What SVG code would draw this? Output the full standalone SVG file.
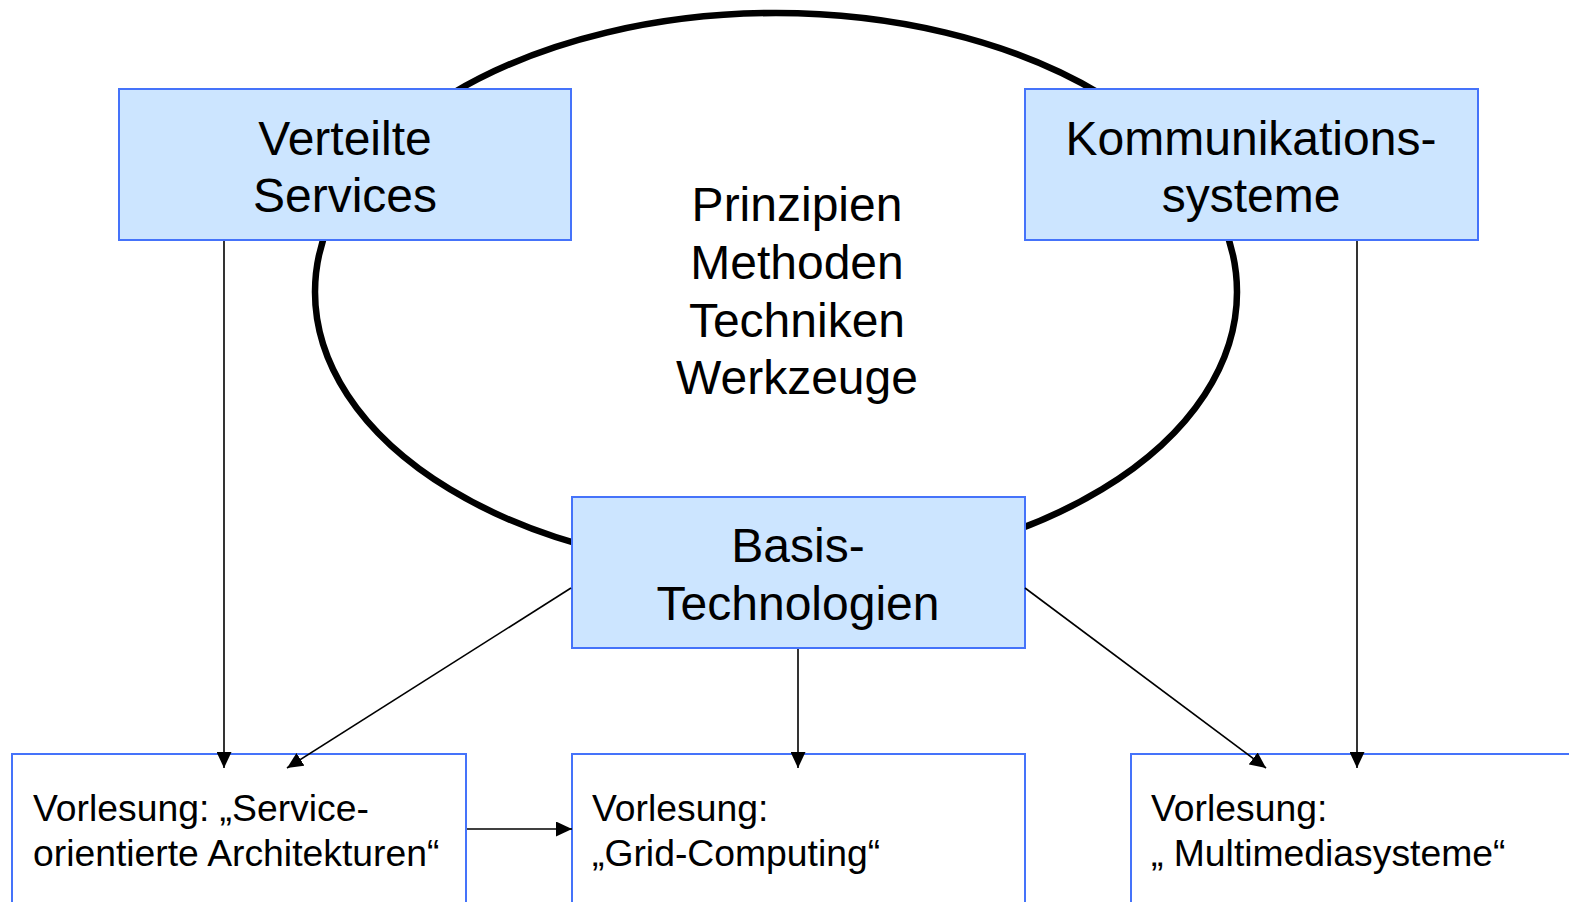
<svg xmlns="http://www.w3.org/2000/svg" width="1569" height="902" viewBox="0 0 1569 902">
  <style>
    .box { fill: #cce5ff; stroke: #4573fa; stroke-width: 2; }
    .lec { fill: #ffffff; stroke: #4573fa; stroke-width: 2; }
    .big { font-family: "Liberation Sans", Arial, sans-serif; font-size: 48px; fill: #000; text-anchor: middle; }
    .small { font-family: "Liberation Sans", Arial, sans-serif; font-size: 37.3px; fill: #000; }
    .conn { stroke: #000; stroke-width: 1.6; fill: none; marker-end: url(#arrow); }
  </style>
  <defs>
    <marker id="arrow" markerUnits="userSpaceOnUse" markerWidth="17" markerHeight="15" refX="16" refY="7.5" orient="auto">
      <path d="M0,0 L16,7.5 L0,15 Z" fill="#000"/>
    </marker>
  </defs>
  <rect width="1569" height="902" fill="#ffffff"/>

  <!-- central ring -->
  <g id="ring">
    <ellipse cx="776" cy="292" rx="461" ry="279" fill="none" stroke="#000" stroke-width="6.5"/>
    <text class="big" x="797" y="221">Prinzipien</text>
    <text class="big" x="797" y="279">Methoden</text>
    <text class="big" x="797" y="337">Techniken</text>
    <text class="big" x="797" y="394">Werkzeuge</text>
  </g>

  <g id="verteilte-services">
    <rect class="box" x="119" y="89" width="452" height="151"/>
    <text class="big" x="345" y="155">Verteilte</text>
    <text class="big" x="345" y="212">Services</text>
  </g>

  <g id="kommunikationssysteme">
    <rect class="box" x="1025" y="89" width="453" height="151"/>
    <text class="big" x="1251" y="155">Kommunikations-</text>
    <text class="big" x="1251" y="212">systeme</text>
  </g>

  <g id="basis-technologien">
    <rect class="box" x="572" y="497" width="453" height="151"/>
    <text class="big" x="798" y="562">Basis-</text>
    <text class="big" x="798" y="620">Technologien</text>
  </g>

  <g id="vorlesung-soa">
    <rect class="lec" x="12" y="754" width="454" height="160"/>
    <text class="small" x="33" y="821">Vorlesung: „Service-</text>
    <text class="small" x="33" y="866">orientierte Architekturen“</text>
  </g>

  <g id="vorlesung-grid">
    <rect class="lec" x="572" y="754" width="453" height="160"/>
    <text class="small" x="592" y="821">Vorlesung:</text>
    <text class="small" x="592" y="866">„Grid-Computing“</text>
  </g>

  <g id="vorlesung-multimedia">
    <rect class="lec" x="1131" y="754" width="460" height="160"/>
    <text class="small" x="1151" y="821">Vorlesung:</text>
    <text class="small" x="1151" y="866">„ Multimediasysteme“</text>
  </g>

  <!-- connectors, drawn over the boxes so the arrow tips reach inside -->
  <g id="connectors">
    <line class="conn" x1="224" y1="241" x2="224" y2="768"/>
    <line class="conn" x1="571" y1="588" x2="287" y2="768"/>
    <line class="conn" x1="798" y1="649" x2="798" y2="768"/>
    <line class="conn" x1="1025" y1="588" x2="1266" y2="768"/>
    <line class="conn" x1="1357" y1="241" x2="1357" y2="768"/>
    <line class="conn" x1="467" y1="829" x2="572" y2="829"/>
  </g>
</svg>
